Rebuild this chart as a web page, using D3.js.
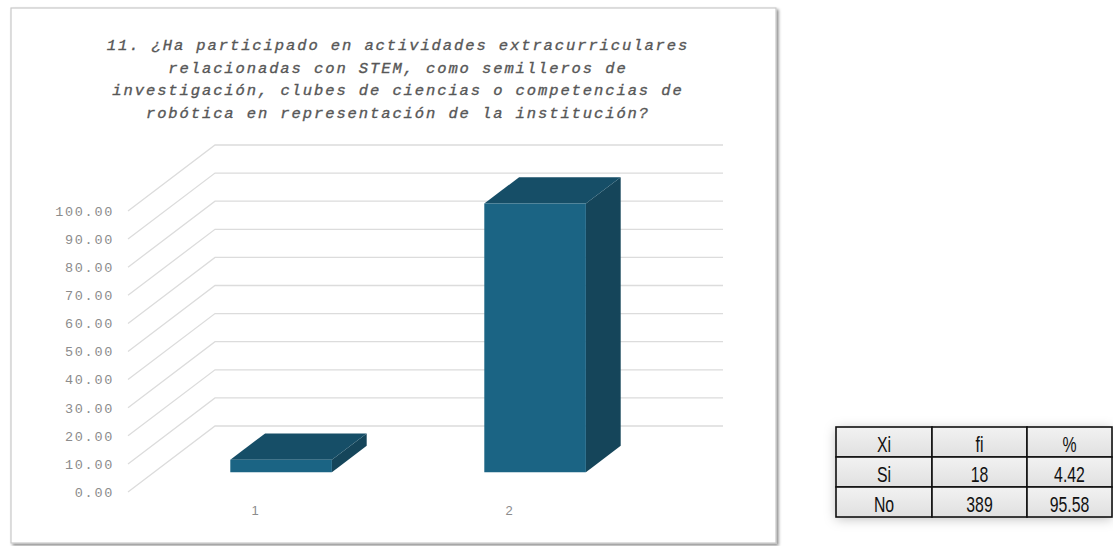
<!DOCTYPE html>
<html>
<head>
<meta charset="utf-8">
<script src="https://cdn.jsdelivr.net/npm/d3@7/dist/d3.min.js"></script>
<style>
  html, body { margin: 0; padding: 0; background: #ffffff; }
  svg { display: block; }
</style>
</head>
<body>
<svg id="chart" width="1113" height="546"></svg>
<script>
// ---- data ----
const categories = ["1", "2"];
const values = [4.42, 95.58];
const yTicks = [0, 10, 20, 30, 40, 50, 60, 70, 80, 90, 100];
const titleLines = [
  "11. ¿Ha participado en actividades extracurriculares",
  "relacionadas con STEM, como semilleros de",
  "investigación, clubes de ciencias o competencias de",
  "robótica en representación de la institución?"
];
const tableHeader = ["Xi", "fi", "%"];
const xiLabels = ["Si", "No"];
const fiValues = [18, 389];
const pctValues = ["4.42", "95.58"];

// ---- layout ----
const svg = d3.select("#chart");
const defs = svg.append("defs");
const f1 = defs.append("filter").attr("id", "frameShadow")
  .attr("x", "-5%").attr("y", "-5%").attr("width", "110%").attr("height", "110%");
f1.append("feDropShadow").attr("dx", 2).attr("dy", 2).attr("stdDeviation", 1.6)
  .attr("flood-color", "#000").attr("flood-opacity", 0.45);
const f2 = defs.append("filter").attr("id", "tableShadow")
  .attr("x", "-20%").attr("y", "-40%").attr("width", "140%").attr("height", "180%");
f2.append("feDropShadow").attr("dx", 0).attr("dy", 2).attr("stdDeviation", 6)
  .attr("flood-color", "#000").attr("flood-opacity", 0.25);
const cellGrad = defs.append("linearGradient").attr("id", "cellGrad")
  .attr("x1", 0).attr("y1", 0).attr("x2", 0).attr("y2", 1);
cellGrad.append("stop").attr("offset", "0%").attr("stop-color", "#f2f2f2");
cellGrad.append("stop").attr("offset", "100%").attr("stop-color", "#e0e0e0");

// chart frame
svg.append("rect")
  .attr("x", 11).attr("y", 8).attr("width", 765).attr("height", 535)
  .attr("fill", "#ffffff").attr("stroke", "#c9c9c9").attr("stroke-width", 1.2)
  .attr("filter", "url(#frameShadow)");

// title
const title = svg.append("text")
  .attr("text-anchor", "middle")
  .attr("font-family", "'Liberation Mono', 'DejaVu Sans Mono', monospace")
  .attr("font-style", "italic")
  .attr("font-size", 15.5)
  .attr("letter-spacing", 1.9)
  .attr("stroke", "#575757").attr("stroke-width", 0.35)
  .attr("fill", "#575757");
titleLines.forEach((t, i) => {
  title.append("tspan").attr("x", 398).attr("y", 50 + i * 22.6).text(t);
});

// 3D geometry
const depthDX = 87, depthDY = -66;
const x = d3.scaleBand().domain(categories).range([128, 636])
  .paddingInner(0.6).paddingOuter(0.3);
const y = d3.scaleLinear().domain([0, 100]).range([492, 211]);
const proj = (px, py, d) => [px + d * depthDX, py + d * depthDY];

// gridlines (front diagonal + back horizontal)
const grid = svg.append("g");
yTicks.forEach(t => {
  const p0 = proj(x.range()[0], y(t), 0);
  const p1 = proj(x.range()[0], y(t), 1);
  const p2 = proj(x.range()[1], y(t), 1);
  grid.append("polyline")
    .attr("points", [p0, p1, p2].map(p => p.join(",")).join(" "))
    .attr("fill", "none").attr("stroke", "#dcdcdc").attr("stroke-width", 1.3);
});

// y axis labels
const yAxis = d3.axisLeft(y).tickValues(yTicks).tickFormat(d3.format(".2f"))
  .tickSize(0).tickPadding(14);
const yg = svg.append("g").attr("transform", "translate(128,0)").call(yAxis);
yg.select(".domain").remove();
yg.selectAll("text")
  .attr("font-family", "'Liberation Mono', 'DejaVu Sans Mono', monospace")
  .attr("font-size", 13.5)
  .attr("letter-spacing", 1.7)
  .attr("fill", "#8c8c8c");

// x axis labels
const xAxis = d3.axisBottom(x).tickSize(0).tickPadding(0);
const xg = svg.append("g").attr("transform", "translate(0,506)").call(xAxis);
xg.select(".domain").remove();
xg.selectAll("text")
  .attr("font-family", "'Liberation Sans', Arial, sans-serif")
  .attr("font-size", 13)
  .attr("fill", "#8c8c8c");

// bars
const dF = 0.30, dB = 0.70;
const bars = svg.append("g");
categories.forEach((c, i) => {
  const x0 = x(c), x1 = x(c) + x.bandwidth();
  const yv = y(values[i]), y0 = y(0);
  const poly = (pts, fill) => bars.append("polygon")
    .attr("points", pts.map(p => p.join(",")).join(" "))
    .attr("fill", fill);
  // right side
  poly([proj(x1, y0, dF), proj(x1, yv, dF), proj(x1, yv, dB), proj(x1, y0, dB)], "#15455a");
  // top
  poly([proj(x0, yv, dF), proj(x1, yv, dF), proj(x1, yv, dB), proj(x0, yv, dB)], "#164e67");
  // front
  poly([proj(x0, y0, dF), proj(x1, y0, dF), proj(x1, yv, dF), proj(x0, yv, dF)], "#1b6484");
});

// table
const colX = [836, 932, 1027, 1112];
const rowY = [427, 457, 487, 517];
const tableRows = [tableHeader, ...xiLabels.map((s, i) => [s, String(fiValues[i]), pctValues[i]])];
const tg = svg.append("g");
tg.append("rect")
  .attr("x", colX[0]).attr("y", rowY[0])
  .attr("width", colX[3] - colX[0]).attr("height", rowY[3] - rowY[0])
  .attr("fill", "url(#cellGrad)").attr("filter", "url(#tableShadow)");
tableRows.forEach((row, r) => {
  row.forEach((cell, c) => {
    tg.append("rect")
      .attr("x", colX[c]).attr("y", rowY[r])
      .attr("width", colX[c + 1] - colX[c]).attr("height", rowY[r + 1] - rowY[r])
      .attr("fill", "url(#cellGrad)").attr("stroke", "#111").attr("stroke-width", 1.6);
    const cx = (colX[c] + colX[c + 1]) / 2;
    const cy = rowY[r] + 24.5;
    tg.append("text")
      .attr("transform", `translate(${cx},${cy}) scale(0.72,1)`)
      .attr("text-anchor", "middle")
      .attr("font-family", "'Liberation Sans', Arial, sans-serif")
      .attr("font-size", 22)
      .attr("fill", "#111")
      .text(cell);
  });
});
</script>
</body>
</html>
